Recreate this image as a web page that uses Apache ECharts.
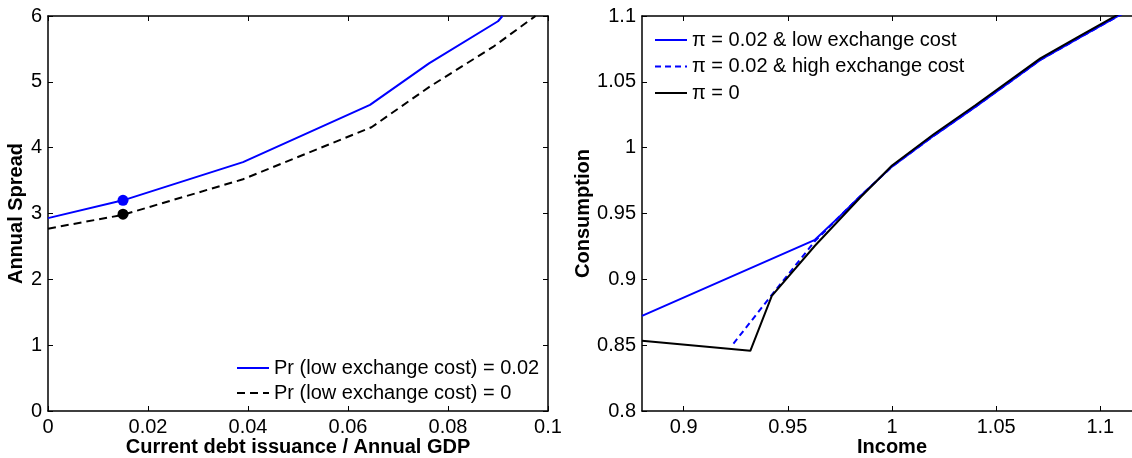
<!DOCTYPE html>
<html>
<head>
<meta charset="utf-8">
<script src="https://cdn.jsdelivr.net/npm/echarts@6/dist/echarts.min.js"></script>
<style>
  html, body { margin: 0; padding: 0; background: #fff; }
  #chart { width: 1132px; height: 458px; }
</style>
</head>
<body>
<div id="chart"></div>
<script>
// left panel: annual spread vs debt issuance
var debtBlue   = [0, 0.015, 0.039, 0.0644, 0.0762, 0.09, 0.0909];
var spreadBlue = [2.93, 3.2, 3.78, 4.65, 5.28, 5.92, 6.0];
var debtBlack   = [0, 0.015, 0.039, 0.0647, 0.0762, 0.089, 0.0975];
var spreadBlack = [2.77, 2.98, 3.52, 4.31, 4.92, 5.53, 6.0];
var dotDebt = [0.015];
var dotBlue = [3.2];
var dotBlack = [2.99];

// right panel: consumption vs income
var incomeBlue = [0.88, 0.963, 0.975, 0.985, 1.0, 1.02, 1.04, 1.0712, 1.09, 1.1086, 1.12];
var consBlue   = [0.8723, 0.930, 0.948, 0.9635, 0.9856, 1.009, 1.031, 1.0666, 1.0835, 1.1, 1.11];
var incomeHigh = [0.9239, 0.9426, 0.963, 0.975, 0.985, 1.0, 1.02, 1.04, 1.0712, 1.09, 1.1086, 1.12];
var consHigh   = [0.8512, 0.8888, 0.929, 0.948, 0.9635, 0.9856, 1.009, 1.031, 1.0666, 1.0835, 1.1, 1.11];
var incomeBlack = [0.88, 0.932, 0.9423, 0.963, 0.985, 1.0, 1.02, 1.04, 1.0712, 1.09, 1.1086, 1.12];
var consBlack   = [0.8533, 0.8457, 0.8875, 0.9255, 0.9625, 0.9865, 1.0102, 1.0322, 1.0678, 1.0847, 1.1012, 1.111];
var incomeTicks = [0.9, 0.95, 1, 1.05, 1.1];

var legLeft = ['Pr (low exchange cost) = 0.02', 'Pr (low exchange cost) = 0'];
var legRight = ['π = 0.02 & low exchange cost', 'π = 0.02 & high exchange cost', 'π = 0'];

function pairs(xs, ys) {
    return xs.map(function (x, i) { return [x, ys[i]]; });
}

var FONT = '"Liberation Sans", Arial, sans-serif';
var lbl = { color: '#000', fontSize: 20, fontFamily: FONT };
var nameTxt = { color: '#000', fontSize: 20, fontWeight: 'bold', fontFamily: FONT };
var frame = { show: true, onZero: false, lineStyle: { color: '#000', width: 1.5 } };
var tick = { show: true, inside: true, length: 5, lineStyle: { color: '#000', width: 1 } };
var legText = { color: '#000', fontSize: 20, fontFamily: FONT, lineHeight: 20 };
var noDot = { color: 'rgba(0,0,0,0)', borderWidth: 0, opacity: 0 };

var myChart = echarts.init(document.getElementById('chart'));

var option = {
    animation: false,
    backgroundColor: '#fff',
    grid: [
        { left: 48, top: 16, width: 500, height: 395, outerBoundsMode: 'none', containLabel: false },
        { left: 642, top: 16, width: 500, height: 395, outerBoundsMode: 'none', containLabel: false }
    ],
    legend: [
        {
            data: legLeft, left: 236, top: 358, orient: 'vertical', padding: 0,
            itemWidth: 32, itemHeight: 14, itemGap: 5,
            itemStyle: noDot, textStyle: legText
        },
        {
            data: legRight, left: 654, top: 30, orient: 'vertical', padding: 0,
            itemWidth: 32, itemHeight: 14, itemGap: 6.5,
            itemStyle: noDot, textStyle: legText
        }
    ],
    xAxis: [
        {
            type: 'value', gridIndex: 0, min: 0, max: 0.1, interval: 0.02,
            name: 'Current debt issuance / Annual GDP', nameLocation: 'middle', nameGap: 26,
            nameMoveOverlap: false, nameTextStyle: nameTxt,
            axisLine: frame, axisTick: tick, splitLine: { show: false },
            axisLabel: Object.assign({ margin: 6 }, lbl)
        },
        {
            type: 'value', gridIndex: 0, position: 'top', min: 0, max: 0.1, interval: 0.02,
            axisLine: frame, axisTick: tick, splitLine: { show: false }, axisLabel: { show: false }
        },
        {
            type: 'value', gridIndex: 1, min: 0.88, max: 1.12,
            name: 'Income', nameLocation: 'middle', nameGap: 26,
            nameMoveOverlap: false, nameTextStyle: nameTxt,
            axisLine: frame, splitLine: { show: false },
            axisTick: Object.assign({ customValues: incomeTicks }, tick),
            axisLabel: Object.assign({ margin: 6, customValues: incomeTicks }, lbl)
        },
        {
            type: 'value', gridIndex: 1, position: 'top', min: 0.88, max: 1.12,
            axisLine: frame, splitLine: { show: false },
            axisTick: Object.assign({ customValues: incomeTicks }, tick),
            axisLabel: { show: false }
        }
    ],
    yAxis: [
        {
            type: 'value', gridIndex: 0, min: 0, max: 6, interval: 1,
            name: 'Annual Spread', nameLocation: 'middle', nameGap: 21,
            nameTextStyle: nameTxt,
            axisLine: frame, axisTick: tick, splitLine: { show: false },
            axisLabel: Object.assign({ margin: 6 }, lbl)
        },
        {
            type: 'value', gridIndex: 0, position: 'right', min: 0, max: 6, interval: 1,
            axisLine: frame, axisTick: tick, splitLine: { show: false }, axisLabel: { show: false }
        },
        {
            type: 'value', gridIndex: 1, min: 0.8, max: 1.1, interval: 0.05,
            name: 'Consumption', nameLocation: 'middle', nameGap: 48,
            nameTextStyle: nameTxt,
            axisLine: frame, axisTick: tick, splitLine: { show: false },
            axisLabel: Object.assign({ margin: 6 }, lbl)
        }
    ],
    series: [
        {
            name: legLeft[0], type: 'line', xAxisIndex: 0, yAxisIndex: 0,
            data: pairs(debtBlue, spreadBlue), symbol: 'none',
            lineStyle: { color: '#0000ff', width: 2 }, itemStyle: { color: '#0000ff' }
        },
        {
            name: legLeft[1], type: 'line', xAxisIndex: 0, yAxisIndex: 0,
            data: pairs(debtBlack, spreadBlack), symbol: 'none',
            lineStyle: { color: '#000', width: 2, type: [8, 5] }, itemStyle: { color: '#000' }
        },
        {
            type: 'scatter', xAxisIndex: 0, yAxisIndex: 0,
            data: pairs(dotDebt, dotBlue), symbolSize: 11, itemStyle: { color: '#0000ff', opacity: 1 }
        },
        {
            type: 'scatter', xAxisIndex: 0, yAxisIndex: 0,
            data: pairs(dotDebt, dotBlack), symbolSize: 11, itemStyle: { color: '#000', opacity: 1 }
        },
        {
            name: legRight[1], type: 'line', xAxisIndex: 2, yAxisIndex: 2,
            data: pairs(incomeHigh, consHigh), symbol: 'none',
            lineStyle: { color: '#0000ff', width: 2, type: [6, 4] }, itemStyle: { color: '#0000ff' }
        },
        {
            name: legRight[0], type: 'line', xAxisIndex: 2, yAxisIndex: 2,
            data: pairs(incomeBlue, consBlue), symbol: 'none',
            lineStyle: { color: '#0000ff', width: 2 }, itemStyle: { color: '#0000ff' }
        },
        {
            name: legRight[2], type: 'line', xAxisIndex: 2, yAxisIndex: 2,
            data: pairs(incomeBlack, consBlack), symbol: 'none',
            lineStyle: { color: '#000', width: 2 }, itemStyle: { color: '#000' }
        }
    ]
};

myChart.setOption(option);
</script>
</body>
</html>
